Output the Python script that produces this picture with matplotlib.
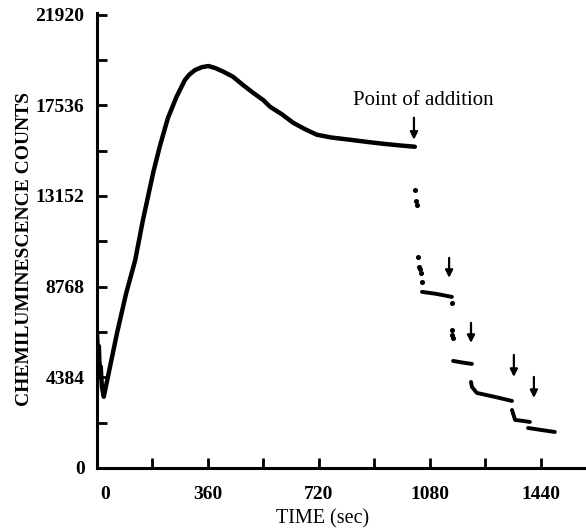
import matplotlib
matplotlib.use("Agg")
import matplotlib.pyplot as plt
import matplotlib.transforms as mtransforms

# ---- data ----
curve_t = [0, 3, 6, 9, 12, 16, 22, 42, 65, 94, 124, 149, 183, 204, 230, 258,
           285, 300, 318, 340, 361, 385, 410, 441, 470, 506, 540, 561, 600, 636, 675, 713, 760,
           820, 880, 927, 980, 1031]
curve_v = [6600, 5300, 5900, 4600, 4900, 3900, 3447, 4883, 6527, 8413, 10057, 11991, 14326,
           15569, 16922, 17950, 18760, 19030, 19243, 19380, 19437, 19330,
           19161, 18920, 18560, 18146, 17780, 17469, 17100, 16695, 16380, 16114, 15980, 15872,
           15760, 15679, 15600, 15533]

seg1_t = [1054, 1100, 1151]
seg1_v = [8517, 8420, 8275]
seg2_t = [1155, 1185, 1216]
seg2_v = [5178, 5100, 5033]
seg3_t = [1213, 1216, 1232, 1290, 1346]
seg3_v = [4162, 3920, 3629, 3440, 3242]
seg4_t = [1346, 1356, 1380, 1404]
seg4_v = [2807, 2323, 2280, 2226]
seg5_t = [1398, 1440, 1485]
seg5_v = [1936, 1840, 1742]

dots_t = [1031, 1036, 1038, 1041, 1044, 1048, 1051, 1054, 1151, 1151, 1153, 1155]
dots_v = [13452, 12900, 12727, 10210, 9726, 9600, 9436, 9000, 7984, 6678, 6450, 6291]

arrow_t = [1028, 1142, 1213, 1352, 1417]
arrow_top = [16937, 10162, 7017, 5468, 4404]
arrow_bot = [15872, 9194, 6049, 4404, 3387]

x_ticks = [0, 180, 360, 540, 720, 900, 1080, 1260, 1440]
x_labels = ["0", "", "360", "", "720", "", "1080", "", "1440"]
y_ticks = [0, 2192, 4384, 6576, 8768, 10960, 13152, 15344, 17536, 19728, 21920]
y_labels = ["0", "", "4384", "", "8768", "", "13152", "", "17536", "", "21920"]

plt.rcParams['font.family'] = ['Liberation Serif', 'DejaVu Serif']

fig = plt.figure(figsize=(5.86, 5.31), dpi=100)
ax = fig.add_axes([97/586, 1 - 468/531, 1 - 97/586, (468 - 13)/531])

ax.plot(curve_t, curve_v, color='black', lw=3.2, solid_capstyle='round', solid_joinstyle='round')
for st, sv in [(seg1_t, seg1_v), (seg2_t, seg2_v), (seg3_t, seg3_v), (seg4_t, seg4_v), (seg5_t, seg5_v)]:
    ax.plot(st, sv, color='black', lw=2.8, solid_capstyle='round', solid_joinstyle='round')
ax.plot(dots_t, dots_v, ls='none', marker='o', ms=2.6, color='black')

for t, a, b in zip(arrow_t, arrow_top, arrow_bot):
    ax.annotate('', xy=(t, b), xytext=(t, a),
                arrowprops=dict(arrowstyle='-|>', color='black', lw=1.6,
                                mutation_scale=11, shrinkA=0, shrinkB=0))

ax.text(1057, 17760, 'Point of addition', fontsize=15, ha='center', va='center')

ax.set_xlim(0, 1586)
ax.set_ylim(0, 22000)
ax.spines['top'].set_visible(False)
ax.spines['right'].set_visible(False)
ax.spines['left'].set_linewidth(2.2)
ax.spines['bottom'].set_linewidth(2.2)

ax.set_xticks(x_ticks)
ax.set_xticklabels(x_labels)
ax.set_yticks(y_ticks)
ax.set_yticklabels(y_labels)
ax.tick_params(axis='both', direction='in', length=7, width=2, labelsize=14)
ax.tick_params(axis='x', pad=13)
ax.tick_params(axis='y', pad=9)
for lab in ax.get_xticklabels() + ax.get_yticklabels():
    lab.set_fontweight('bold')

# shift the "0" x-label slightly right as in the original
lab0 = ax.get_xticklabels()[0]
lab0.set_transform(lab0.get_transform() + mtransforms.ScaledTranslation(8/100, 0, fig.dpi_scale_trans))

fig.text(323/586, 1 - 519/531, 'TIME (sec)', fontsize=14.5, ha='center', va='center')
fig.text(25/586, 1 - 249/531, 'CHEMILUMINESCENCE COUNTS', fontsize=14, fontweight='bold',
         rotation=90, ha='center', va='center')

fig.savefig('out.png', dpi=100)
